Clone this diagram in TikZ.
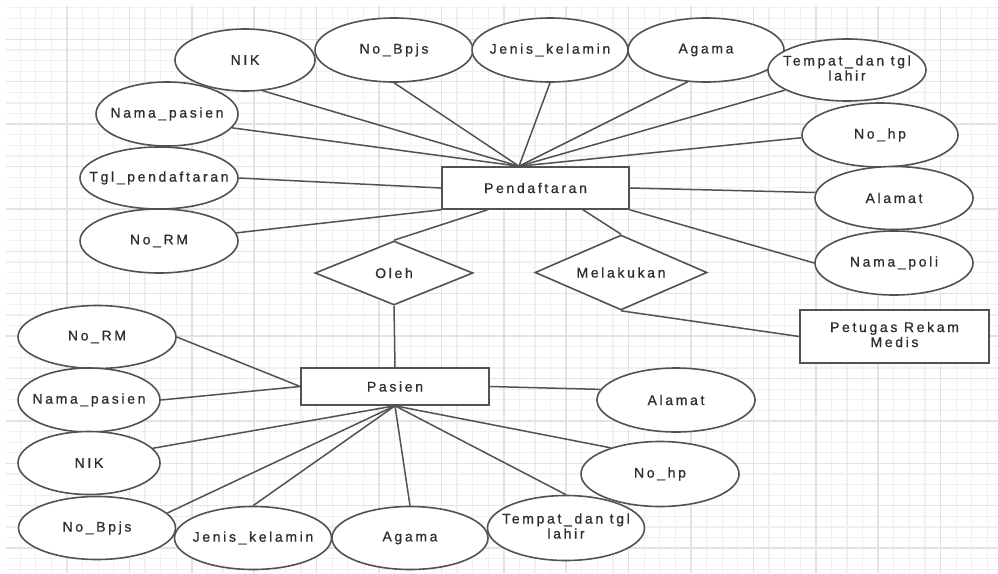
\documentclass[tikz,border=0pt]{standalone}
\usepackage{fontspec}
\setmainfont{Liberation Sans}[LetterSpace=19,FakeBold=0.8]
\usetikzlibrary{shapes.geometric,calc}
\newcommand{\zt}[1]{\makebox[0pt]{#1}}
\newcommand{\zz}[2]{\makebox[0pt]{\begin{tabular}{@{}c@{}}#1\\#2\end{tabular}}}
\begin{document}
\begin{tikzpicture}[x=1pt,y=-1pt,
  every node/.style={font=\fontsize{14}{15}\selectfont, text=black!82},
  ent/.style={draw=black!68, line width=1.6pt, fill=white, rectangle, inner sep=0pt},
  att/.style={draw=black!68, line width=1.6pt, fill=white, ellipse, inner sep=0pt},
  rel/.style={draw=black!68, line width=1.6pt, fill=white, diamond, inner sep=0pt},
  conn/.style={draw=black!68, line width=1.5pt},
  gminor/.style={draw=black!6, line width=1.2pt},
  gmajor/.style={draw=black!11, line width=1.5pt}
]
\useasboundingbox (0,0) rectangle (998,573);
\fill[white] (0,0) rectangle (998,573);
% grid
\begin{scope}
\clip (6,6) rectangle (998,573);
\foreach \i in {0,...,64} { \draw[gminor] ({4.6+15.6*\i},6) -- ({4.6+15.6*\i},573); }
\foreach \j in {0,...,54} { \draw[gminor] (6,{-3.1+10.6*\j}) -- (998,{-3.1+10.6*\j}); }
\foreach \i in {0,...,16} { \draw[gmajor] ({4.6+62.4*\i},6) -- ({4.6+62.4*\i},573); }
\foreach \j in {0,...,14} { \draw[gmajor] (6,{-3.1+42.4*\j}) -- (998,{-3.1+42.4*\j}); }
\end{scope}

% Pendaftaran side
\node[ent, minimum width=187pt, minimum height=42pt] (pend) at (535.5,188) {Pendaftaran};
\node[att, minimum width=140pt, minimum height=62pt] (nik1) at (245,60) {\zt{NIK}};
\node[att, minimum width=158pt, minimum height=64pt] (bpjs1) at (394,50) {\zt{No\_Bpjs}};
\node[att, minimum width=156pt, minimum height=64pt] (jk1) at (550,50) {\zt{Jenis\_kelamin}};
\node[att, minimum width=156pt, minimum height=64pt] (ag1) at (706,50) {\zt{Agama}};
\node[att, minimum width=158pt, minimum height=62pt] (tmp1) at (847,70) {\zz{Tempat\_dan tgl}{lahir}};
\node[att, minimum width=156pt, minimum height=64pt] (hp1) at (880,135) {\zt{No\_hp}};
\node[att, minimum width=142pt, minimum height=64pt] (nama1) at (167,114) {\zt{Nama\_pasien}};
\node[att, minimum width=158pt, minimum height=62pt] (tgl1) at (159,178) {\zt{Tgl\_pendaftaran}};
\node[att, minimum width=158pt, minimum height=64pt] (rm1) at (159,241) {\zt{No\_RM}};
\node[att, minimum width=158pt, minimum height=63pt] (alm1) at (894,198) {\zt{Alamat}};
\node[att, minimum width=158pt, minimum height=64pt] (poli1) at (894,263) {\zt{Nama\_poli}};

\node[rel, minimum width=158pt, minimum height=64pt] (oleh) at (394,273) {\zt{Oleh}};
\node[rel, minimum width=172pt, minimum height=75pt] (mel) at (621,272.5) {\zt{Melakukan}};
\node[ent, minimum width=189pt, minimum height=53pt] (pet) at (894.5,336.5) {\zz{Petugas Rekam}{Medis}};

% Pasien side
\node[ent, minimum width=188pt, minimum height=37pt] (pas) at (395,386.5) {Pasien};
\node[att, minimum width=158pt, minimum height=63pt] (rm2) at (97,337) {\zt{No\_RM}};
\node[att, minimum width=142pt, minimum height=64pt] (nama2) at (89,400) {\zt{Nama\_pasien}};
\node[att, minimum width=142pt, minimum height=63pt] (nik2) at (89,463) {\zt{NIK}};
\node[att, minimum width=157pt, minimum height=63pt] (bpjs2) at (97,528) {\zt{No\_Bpjs}};
\node[att, minimum width=157pt, minimum height=63pt] (jk2) at (253,538) {\zt{Jenis\_kelamin}};
\node[att, minimum width=156pt, minimum height=63pt] (ag2) at (410,538) {\zt{Agama}};
\node[att, minimum width=157pt, minimum height=65pt] (tmp2) at (566,528) {\zz{Tempat\_dan tgl}{lahir}};
\node[att, minimum width=158pt, minimum height=65pt] (hp2) at (660,474) {\zt{No\_hp}};
\node[att, minimum width=158pt, minimum height=64pt] (alm2) at (676,400) {\zt{Alamat}};

% connection points
\coordinate (pt) at ([xshift=-16.5pt]pend.north);
\coordinate (pol) at ([xshift=-48pt]pend.south);
\coordinate (pml) at ([xshift=47.5pt]pend.south);

% connectors Pendaftaran
\draw[conn] (nik1.-60) -- (pt);
\draw[conn] (bpjs1.south) -- (pt);
\draw[conn] (jk1.south) -- (pt);
\draw[conn] (ag1.-120) -- (pt);
\draw[conn] (tmp1.198) -- (pt);
\draw[conn] (hp1.182) -- (pt);
\draw[conn] (nama1.-12) -- (pt);
\draw[conn] (tgl1.east) -- (pend.west);
\draw[conn] (rm1.6) -- (pend.south west);
\draw[conn] (oleh.north) -- (pol);
\draw[conn] (mel.north) -- (pml);
\draw[conn] (pend.south east) -- (poli1.west);
\draw[conn] (pend.east) -- (alm1.176);
\draw[conn] (mel.south) -- (pet.west);
\draw[conn] (oleh.south) -- (pas.north);

% connectors Pasien
\draw[conn] (rm2.east) -- (pas.west);
\draw[conn] (nama2.east) -- (pas.west);
\draw[conn] (nik2.13) -- (pas.south);
\draw[conn] (bpjs2.12) -- (pas.south);
\draw[conn] (jk2.north) -- (pas.south);
\draw[conn] (ag2.north) -- (pas.south);
\draw[conn] (tmp2.north) -- (pas.south);
\draw[conn] (hp2.152) -- (pas.south);
\draw[conn] (pas.east) -- (alm2.172);
\end{tikzpicture}
\end{document}
